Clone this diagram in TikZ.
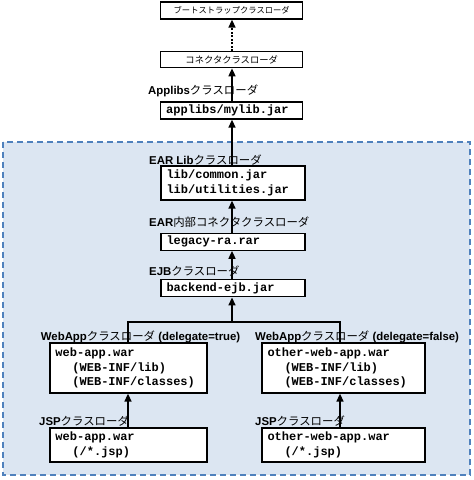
\documentclass[tikz,border=0pt]{standalone}
\usepackage{fontspec}
\setmainfont{Liberation Sans}
\setmonofont{Liberation Mono}
\newfontfamily\jp{Noto Sans CJK JP}
\usetikzlibrary{arrows.meta}
\definecolor{dashblue}{RGB}{79,129,189}
\definecolor{areafill}{RGB}{220,230,242}
\begin{document}
\begin{tikzpicture}[x=1pt,y=-1pt,
  box/.style={draw,line width=1.3pt,fill=white,inner xsep=5.5pt,inner ysep=0pt,align=left,anchor=center},
  mono/.style={font=\fontsize{12}{14.3}\selectfont\ttfamily\bfseries},
  lbl/.style={anchor=west,inner sep=0pt,font=\fontsize{11.4}{12}\selectfont},
  conn/.style={line width=1.6pt},
  arr/.style={line width=1.6pt,-{Triangle[length=8pt,width=7pt]}},
]
\useasboundingbox (0,0) rectangle (474,480);
\fill[areafill] (3,142) rectangle (470,475);
\draw[dashblue,line width=1.5pt,dash pattern=on 6pt off 4pt] (3,142) rectangle (470,475);

\coordinate (cx) at (232,0);
\coordinate (lx) at (128,0);
\coordinate (rx) at (340,0);
\coordinate (fork) at (232,322);

\node[box,minimum width=142pt,minimum height=17pt,text width=131pt,align=center,font=\fontsize{8.3}{10}\selectfont\jp] (boot) at (231.7,10.5) {ブートストラップクラスローダ};
\node[box,minimum width=142pt,minimum height=16pt,text width=131pt,align=center,font=\fontsize{9.3}{10}\selectfont\jp] (conn) at (231.7,59.7) {コネクタクラスローダ};
\node[box,mono,minimum width=142pt,minimum height=17pt,text width=131pt] (applibs) at (231.7,110.5) {applibs/mylib.jar};
\node[box,mono,minimum width=144pt,minimum height=34pt,text width=133pt] (earlib) at (233,183) {lib/common.jar\\lib/utilities.jar};
\node[box,mono,minimum width=144pt,minimum height=17pt,text width=133pt] (legacy) at (233,241.7) {legacy-ra.rar};
\node[box,mono,minimum width=144pt,minimum height=17pt,text width=133pt] (ejb) at (233,288.3) {backend-ejb.jar};
\node[box,mono,minimum width=157pt,minimum height=50pt,text width=146pt] (web1) at (128.5,368) {web-app.war\\\hspace*{17pt}(WEB-INF/lib)\\\hspace*{17pt}(WEB-INF/classes)};
\node[box,mono,minimum width=157pt,minimum height=34pt,text width=146pt] (jsp1) at (128.5,445) {web-app.war\\\hspace*{17pt}(/*.jsp)};
\node[box,mono,minimum width=163pt,minimum height=50pt,text width=152pt] (web2) at (343.5,368) {other-web-app.war\\\hspace*{17pt}(WEB-INF/lib)\\\hspace*{17pt}(WEB-INF/classes)};
\node[box,mono,minimum width=163pt,minimum height=34pt,text width=152pt] (jsp2) at (343.5,445) {other-web-app.war\\\hspace*{17pt}(/*.jsp)};

\draw[arr,dash pattern=on 2pt off 1.5pt] (conn.north -| cx) -- (boot.south -| cx);
\draw[arr] (applibs.north -| cx) -- (conn.south -| cx);
\draw[arr] (earlib.north -| cx) -- (applibs.south -| cx);
\draw[arr] (legacy.north -| cx) -- (earlib.south -| cx);
\draw[arr] (ejb.north -| cx) -- (legacy.south -| cx);
\draw[conn] (web1.north -| lx) -- (lx |- fork) -- (rx |- fork) -- (web2.north -| rx);
\draw[arr] (fork) -- (ejb.south -| fork);
\draw[arr] (jsp1.north -| lx) -- (web1.south -| lx);
\draw[arr] (jsp2.north -| rx) -- (web2.south -| rx);

\node[lbl] (lapp) at (148,91) {\textbf{Applibs}{\jp クラスローダ}};
\node[lbl] (lear) at (149,160) {\textbf{EAR Lib}{\jp クラスローダ}};
\node[lbl] (learc) at (149,222) {\textbf{EAR}{\jp 内部コネクタクラスローダ}};
\node[lbl] (lejb) at (149,271) {\textbf{EJB}{\jp クラスローダ}};
\node[lbl] (lweb1) at (40.7,336.7) {\textbf{WebApp}{\jp クラスローダ} \textbf{(delegate=true)}};
\node[lbl] (ljsp1) at (39,421) {\textbf{JSP}{\jp クラスローダ}};
\node[lbl] (lweb2) at (255,336.7) {\textbf{WebApp}{\jp クラスローダ} \textbf{(delegate=false)}};
\node[lbl] (ljsp2) at (255,421) {\textbf{JSP}{\jp クラスローダ}};
\end{tikzpicture}
\end{document}
